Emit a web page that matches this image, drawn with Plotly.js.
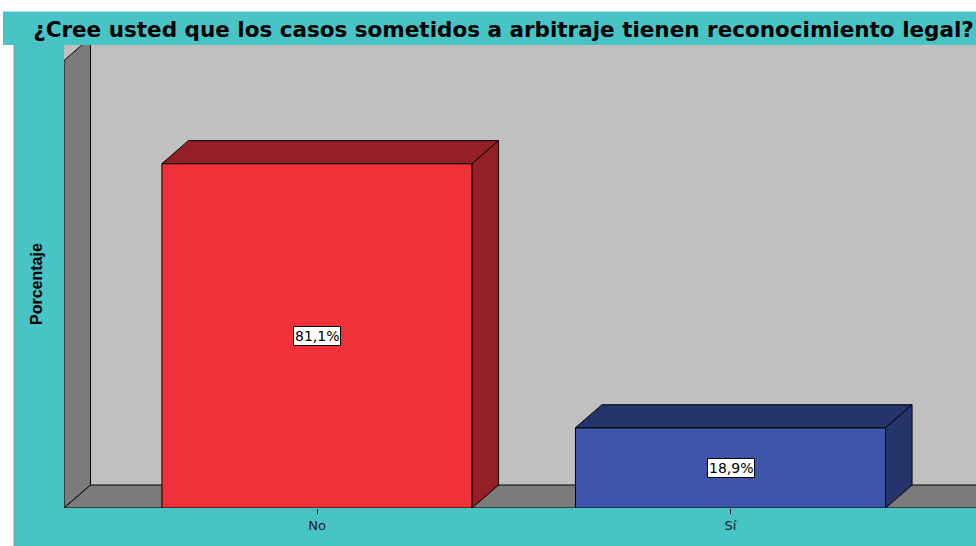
<!DOCTYPE html>
<html>
<head>
<meta charset="utf-8">
<script src="https://cdn.plot.ly/plotly-3.0.1.min.js"></script>
<style>
html,body{margin:0;padding:0;background:#ffffff;}
#chart{width:976px;height:546px;}
</style>
</head>
<body>
<div id="chart"></div>
<script>
// ---- data ----
var categories = ['No', 'Sí'];
var percentages = [81.1, 18.9];
var frontColors = ['#f03238', '#3d56a9'];
var sideColors = ['#941f25', '#25356b'];
var chartTitle = '¿Cree usted que los casos sometidos a arbitraje tienen reconocimiento legal?';
var yTitle = 'Porcentaje';

// ---- geometry (axis units) ----
var W = 976, H = 546;
var mL = 64, mR = 0, mT = 45, mB = 38;
var plotW = W - mL - mR, plotH = H - mT - mB;
var pxPerUnitX = 413.5;      // px between categories
var pxPerPct = 4.246;        // px per percent
var xCenter0 = 317;          // px of first category
var xMin = (mL - xCenter0) / pxPerUnitX;
var xMax = (W - mR - xCenter0) / pxPerUnitX;
var yMax = plotH / pxPerPct;
var barW = 0.75;
var dX = 26.5 / pxPerUnitX;  // depth offset
var dY = 23 / pxPerPct;
var wallTop = (H - mB - 60.5) / pxPerPct;

function px2paperX(p) { return (p - mL) / plotW; }
function px2paperY(p) { return (H - mB - p) / plotH; }

var xs = categories.map(function (c, i) { return i; });

var traces = [];
// front faces (bars)
traces.push({
  type: 'bar', x: xs, y: percentages, width: barW,
  marker: { color: frontColors, line: { color: '#000', width: 1 } },
  hoverinfo: 'skip', showlegend: false
});
// side and top faces from the values
xs.forEach(function (x, i) {
  var v = percentages[i];
  var x0 = x - barW / 2, x1 = x + barW / 2;
  traces.push({
    type: 'scatter', mode: 'lines', fill: 'toself', fillcolor: sideColors[i],
    x: [x0, x0 + dX, x1 + dX, x1, x0], y: [v, v + dY, v + dY, v, v],
    line: { color: '#000', width: 1 }, hoverinfo: 'skip', showlegend: false
  });
  traces.push({
    type: 'scatter', mode: 'lines', fill: 'toself', fillcolor: sideColors[i],
    x: [x1, x1 + dX, x1 + dX, x1, x1], y: [0, dY, v + dY, v, 0],
    line: { color: '#000', width: 1 }, hoverinfo: 'skip', showlegend: false
  });
});

var shapes = [
  // teal panel (paper, below everything)
  { type: 'rect', xref: 'paper', yref: 'paper', layer: 'below',
    x0: px2paperX(14), x1: px2paperX(W + 2), y0: px2paperY(H + 2), y1: px2paperY(44),
    fillcolor: '#48c4c6', line: { color: '#8a9a9a', width: 1 } },
  // title band
  { type: 'rect', xref: 'paper', yref: 'paper', layer: 'below',
    x0: px2paperX(3), x1: px2paperX(W + 2), y0: px2paperY(45), y1: px2paperY(11.5),
    fillcolor: '#48c4c6', line: { width: 0 } },
  // back wall
  { type: 'rect', xref: 'x', yref: 'y', layer: 'below',
    x0: xMin, x1: xMax + 1, y0: 0, y1: yMax + 10,
    fillcolor: '#c0c0c0', line: { width: 0 } },
  // left wall
  { type: 'path', xref: 'x', yref: 'y', layer: 'below',
    path: 'M' + xMin + ',0 L' + xMin + ',' + wallTop + ' L' + (xMin + dX) + ',' + (wallTop + dY) +
          ' L' + (xMin + dX) + ',' + dY + ' Z',
    fillcolor: '#7b7b7b', line: { color: '#000', width: 1 } },
  // floor
  { type: 'path', xref: 'x', yref: 'y', layer: 'below',
    path: 'M' + xMin + ',0 L' + (xMax + 1) + ',0 L' + (xMax + 1) + ',' + dY +
          ' L' + (xMin + dX) + ',' + dY + ' Z',
    fillcolor: '#7b7b7b', line: { color: '#000', width: 1 } }
];

var annotations = xs.map(function (x, i) {
  return {
    x: x, y: percentages[i] / 2, xref: 'x', yref: 'y',
    text: percentages[i].toFixed(1).replace('.', ',') + '%',
    showarrow: false, bgcolor: '#ffffff', bordercolor: '#000', borderwidth: 1, borderpad: 1,
    font: { family: 'DejaVu Sans, Verdana, sans-serif', size: 14, color: '#000' }
  };
});
annotations.push({
  xref: 'paper', yref: 'paper', x: px2paperX(36.5), y: px2paperY(284.5),
  xanchor: 'center', yanchor: 'middle', textangle: -90, showarrow: false,
  text: '<b>' + yTitle + '</b>',
  font: { family: 'Liberation Sans Narrow, Arial Narrow, Liberation Sans, sans-serif', size: 16, color: '#000' }
});

var layout = {
  width: W, height: H,
  margin: { l: mL, r: mR, t: mT, b: mB, pad: 0 },
  paper_bgcolor: '#ffffff',
  plot_bgcolor: 'rgba(0,0,0,0)',
  title: {
    text: '<b>' + chartTitle + '</b>',
    font: { family: 'DejaVu Sans, Verdana, sans-serif', size: 21.5, color: '#000' },
    xref: 'container', yref: 'container', x: 503.5 / W, y: 1 - 29 / H,
    xanchor: 'center', yanchor: 'middle'
  },
  xaxis: {
    range: [xMin, xMax], tickvals: xs, ticktext: categories,
    showgrid: false, zeroline: false, showline: false,
    ticks: 'outside', ticklen: 5, tickcolor: '#000', tickwidth: 1,
    tickfont: { family: 'DejaVu Sans, Verdana, sans-serif', size: 13, color: '#1a1a1a' },
    fixedrange: true
  },
  yaxis: {
    range: [0, yMax], showgrid: false, zeroline: false, showline: false,
    showticklabels: false, ticks: '', fixedrange: true
  },
  bargap: 0,
  shapes: shapes,
  annotations: annotations,
  showlegend: false
};

Plotly.newPlot('chart', traces, layout, { displayModeBar: false, staticPlot: true });
</script>
</body>
</html>
